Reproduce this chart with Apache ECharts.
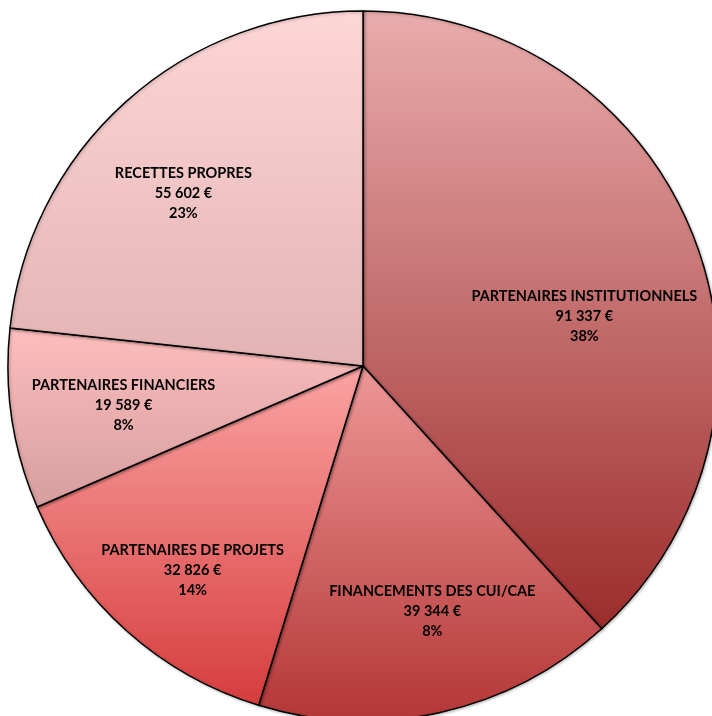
<!DOCTYPE html>
<html>
<head>
<meta charset="utf-8">
<script src="https://cdn.jsdelivr.net/npm/echarts@6/dist/echarts.min.js"></script>
<style>html,body{margin:0;padding:0;background:#fff}#c{width:712px;height:716px}</style>
</head>
<body>
<div id="c"></div>
<script>
var categories = ['PARTENAIRES INSTITUTIONNELS', 'FINANCEMENTS DES CUI/CAE', 'PARTENAIRES DE PROJETS', 'PARTENAIRES FINANCIERS', 'RECETTES PROPRES'];
var amounts = [91337, 39344, 32826, 19589, 55602];
var pctLabels = ['38%', '8%', '14%', '8%', '23%'];

var gradients = [
  ['#e9acac', '#9c2c2c'],
  ['#ee9898', '#b43636'],
  ['#fba4a4', '#d63c3c'],
  ['#fdbdbd', '#d69e9e'],
  ['#fdd6d6', '#e3b3b3']
];
var labelShift = [[53, 15], [30, 69], [-50, 70], [-61, 12], [-59, -38]];

function fmt(v) { return String(v).replace(/\B(?=(\d{3})+(?!\d))/g, ' '); }

var data = categories.map(function (c, i) {
  return {
    name: c, value: amounts[i],
    itemStyle: {
      color: new echarts.graphic.LinearGradient(0, 0, 0, 1, [
        { offset: 0, color: gradients[i][0] },
        { offset: 1, color: gradients[i][1] }
      ])
    }
  };
});

var chart = echarts.init(document.getElementById('c'));
chart.setOption({
  animation: false,
  series: [{
    type: 'pie',
    center: [363, 366],
    radius: [0, 355],
    startAngle: 90,
    clockwise: true,
    data: data,
    itemStyle: { borderColor: '#000', borderWidth: 1.5, shadowColor: 'rgba(0,0,0,0.25)', shadowBlur: 3, shadowOffsetX: 1, shadowOffsetY: 1 },
    label: {
      show: true,
      position: 'inside',
      fontFamily: 'Lato',
      fontWeight: 'bold',
      fontSize: 14.5,
      lineHeight: 20,
      color: '#000',
      align: 'center',
      formatter: function (p) {
        return p.name + '\n' + fmt(p.value) + ' €\n' + pctLabels[p.dataIndex];
      }
    },
    labelLine: { show: false },
    labelLayout: function (p) {
      return { dx: labelShift[p.dataIndex][0], dy: labelShift[p.dataIndex][1] };
    },
    emphasis: { disabled: true }
  }]
});
</script>
</body>
</html>
